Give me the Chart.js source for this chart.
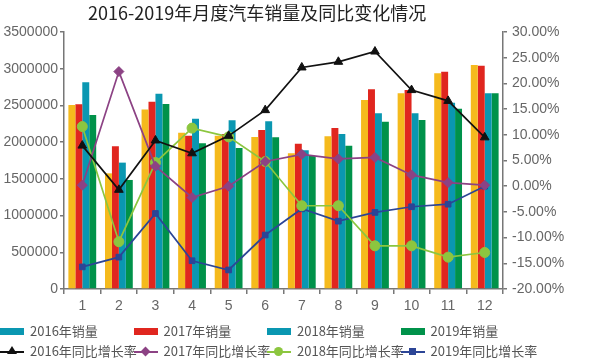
<!DOCTYPE html>
<html>
<head>
<meta charset="utf-8">
<script src="https://cdn.jsdelivr.net/npm/chart.js@4.4.1/dist/chart.umd.min.js"></script>
<style>
    body { margin: 0; background: #fff; }
    #wrap { position: relative; width: 600px; height: 358px; font-family: "Noto Sans CJK SC", sans-serif; }
    #title { position: absolute; left: 88px; top: 1px; font-size: 18px; line-height: 22px; color: #222; white-space: nowrap; }
    #myChart { position: absolute; left: 0; top: 0; }
    .lg { position: absolute; height: 18px; font-size: 13px; line-height: 18px; color: #555; white-space: nowrap; }
    .sw { position: absolute; left: 0; top: 6px; width: 24px; height: 7px; }
    .ln { position: absolute; left: 0; top: 9px; width: 24px; height: 2px; }
    .mk { position: absolute; left: 8px; top: 6px; width: 8px; height: 8px; }
    .lg span.t { position: absolute; left: 30px; top: 0; }
</style>
</head>
<body>
<div id="wrap">
    <canvas id="myChart" width="600" height="358"></canvas>
    <div id="title">2016-2019年月度汽车销量及同比变化情况</div>
    <div id="legend"></div>
</div>
<script>
// months and tick labels
var months = ['1', '2', '3', '4', '5', '6', '7', '8', '9', '10', '11', '12'];

// monthly sales (units)
var sales2016 = [2506000, 1575000, 2443000, 2129000, 2088000, 2070000, 1848000, 2079000, 2574000, 2665000, 2937000, 3051000];
var sales2017 = [2515000, 1943000, 2551000, 2088000, 2111000, 2166000, 1979000, 2193000, 2719000, 2710000, 2960000, 3042000];
var sales2018 = [2815000, 1721000, 2660000, 2320000, 2297000, 2284000, 1889000, 2111000, 2393000, 2393000, 2538000, 2665000];
var sales2019 = [2370000, 1485000, 2520000, 1984000, 1920000, 2066000, 1811000, 1952000, 2279000, 2302000, 2456000, 2665000];

// year on year growth (%)
var growth2016 = [7.9, -0.7, 8.9, 6.4, 9.8, 14.8, 23.1, 24.2, 26.2, 18.7, 16.6, 9.5];
var growth2017 = [0.2, 22.3, 3.9, -2.2, 0.0, 4.8, 6.2, 5.3, 5.6, 2.2, 0.7, 0.2];
var growth2018 = [11.6, -10.8, 4.6, 11.3, 9.6, 4.8, -3.8, -3.8, -11.6, -11.6, -13.8, -12.9];
var growth2019 = [-15.7, -13.8, -5.3, -14.5, -16.3, -9.5, -4.4, -6.8, -5.1, -4.0, -3.5, 0.0];

var barNames = ['2016年销量', '2017年销量', '2018年销量', '2019年销量'];
var barColors = ['#F5BA1D', '#E0261F', '#0A97B1', '#00924A'];
// the original legend shows the 2016 box in teal
var barLegendColors = ['#0A97B1', '#E0261F', '#0A97B1', '#00924A'];
var lineNames = ['2016年同比增长率', '2017年同比增长率', '2018年同比增长率', '2019年同比增长率'];
var lineColors = ['#111111', '#8C4284', '#8CC63F', '#2C4596'];
var lineMarkers = ['triangle', 'rectRot', 'circle', 'rect'];
var markerSizes = [5, 5, 5, 4];

var barSets = [sales2016, sales2017, sales2018, sales2019];
var lineSets = [growth2016, growth2017, growth2018, growth2019];

var axisColor = '#777';
var tickColor = '#666';
var tickFont = { family: 'Liberation Sans', size: 14 };

function buildDatasets() {
    var ds = [];
    for (var i = 0; i < lineSets.length; i++) {
        ds.push({
            type: 'line',
            label: lineNames[i],
            data: lineSets[i],
            yAxisID: 'y1',
            borderColor: lineColors[i],
            backgroundColor: lineColors[i],
            borderWidth: 1.7,
            pointStyle: lineMarkers[i],
            pointRadius: markerSizes[i],
            pointBorderWidth: 1,
            tension: 0,
            order: 1
        });
    }
    for (var j = 0; j < barSets.length; j++) {
        ds.push({
            type: 'bar',
            label: barNames[j],
            data: barSets[j],
            yAxisID: 'y',
            backgroundColor: barColors[j],
            barPercentage: 1,
            categoryPercentage: 0.76,
            order: 2
        });
    }
    return ds;
}

function buildLegend() {
    var box = document.getElementById('legend');
    var html = '';
    for (var i = 0; i < 4; i++) {
        html += '<div class="lg" style="left:' + (i * 133.5) + 'px;top:322px">' +
            '<div class="sw" style="background:' + barLegendColors[i] + '"></div>' +
            '<span class="t">' + barNames[i] + '</span></div>';
    }
    for (var k = 0; k < 4; k++) {
        var mk = '';
        var c = lineColors[k];
        if (lineMarkers[k] == 'triangle') {
            mk = '<div class="mk" style="width:0;height:0;left:7px;top:4px;border-left:5px solid transparent;border-right:5px solid transparent;border-bottom:8px solid ' + c + '"></div>';
        } else if (lineMarkers[k] == 'rectRot') {
            mk = '<div class="mk" style="background:' + c + ';transform:rotate(45deg);width:7px;height:7px;left:8px;top:6px"></div>';
        } else if (lineMarkers[k] == 'circle') {
            mk = '<div class="mk" style="background:' + c + ';border-radius:50%;width:9px;height:9px;left:7px;top:5px"></div>';
        } else {
            mk = '<div class="mk" style="background:' + c + ';width:7px;height:7px;left:8px;top:6px"></div>';
        }
        html += '<div class="lg" style="left:' + (k * 133.5) + 'px;top:342px">' +
            '<div class="ln" style="background:' + c + '"></div>' + mk +
            '<span class="t">' + lineNames[k] + '</span></div>';
    }
    box.innerHTML = html;
}

function drawChart() {
    const config = {
        data: {
            labels: months,
            datasets: buildDatasets()
        },
        options: {
            responsive: false,
            animation: false,
            layout: { padding: { top: 32, bottom: 44, left: 0, right: 0 } },
            plugins: {
                legend: { display: false },
                title: { display: false },
                tooltip: { enabled: false }
            },
            scales: {
                x: {
                    grid: { offset: true, drawOnChartArea: false, color: axisColor, tickLength: 5, lineWidth: 1.5 },
                    border: { color: axisColor, width: 1.5 },
                    ticks: { color: tickColor, font: tickFont, padding: 4, maxRotation: 0 },
                    afterFit: function (scale) { scale.height = 25; }
                },
                y: {
                    position: 'left',
                    min: 0,
                    max: 3500000,
                    grid: { drawOnChartArea: false, color: axisColor, tickLength: 4, lineWidth: 1.5 },
                    border: { color: axisColor, width: 1.5 },
                    ticks: {
                        stepSize: 500000,
                        color: tickColor,
                        font: tickFont,
                        padding: 2,
                        callback: function (v) { return String(v); }
                    },
                    afterFit: function (scale) { scale.width = 64; }
                },
                y1: {
                    position: 'right',
                    min: -20,
                    max: 30,
                    grid: { drawOnChartArea: false, color: axisColor, tickLength: 4, lineWidth: 1.5 },
                    border: { color: axisColor, width: 1.5 },
                    ticks: {
                        stepSize: 5,
                        color: tickColor,
                        font: tickFont,
                        padding: 5,
                        callback: function (v) { return v.toFixed(2) + '%'; }
                    },
                    afterFit: function (scale) { scale.width = 97; }
                }
            }
        }
    };

    var myChart = new Chart(document.getElementById('myChart'), config);
}

buildLegend();
drawChart();
</script>
</body>
</html>
